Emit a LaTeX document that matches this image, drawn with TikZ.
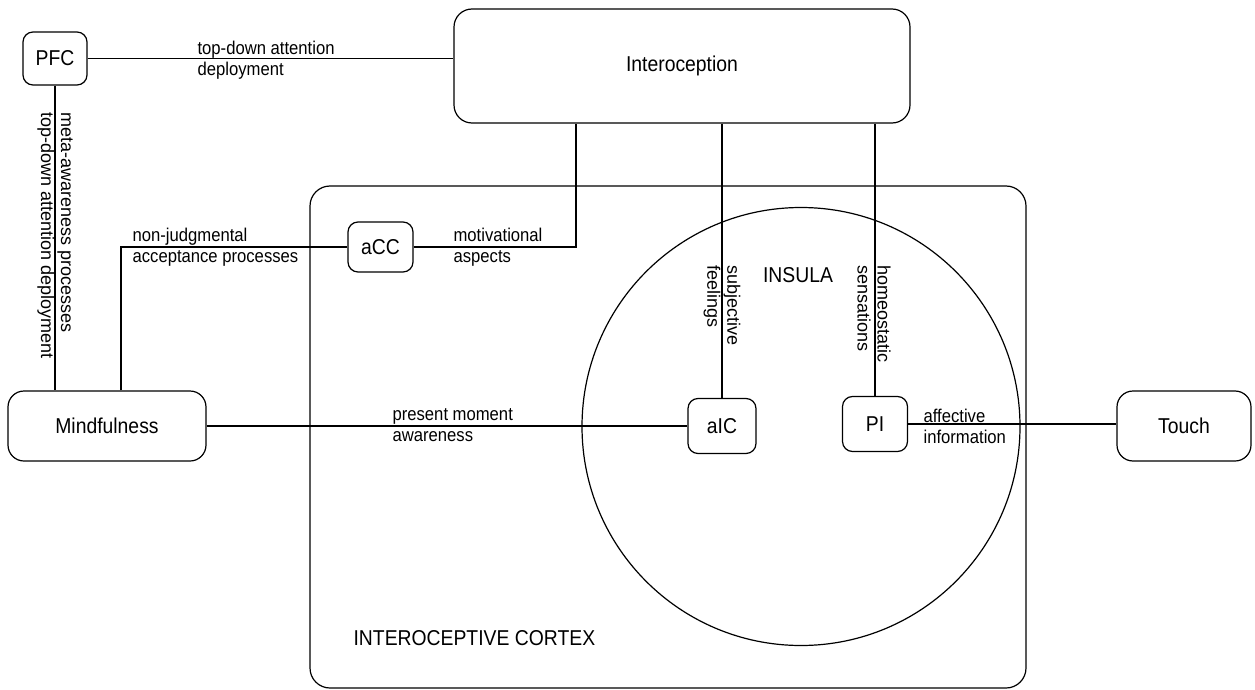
\documentclass[tikz,border=0pt]{standalone}
\usepackage{fontspec}
\setmainfont{Liberation Sans}[FakeStretch=0.9]
\newfontfamily\uprightlbl{Liberation Sans}
\begin{document}
\begin{tikzpicture}[x=1pt,y=-1pt,line width=1.2pt,
		box/.style={draw,rounded corners=#1,inner sep=0pt,font=\fontsize{21.5}{24}\selectfont},
		box/.default=10pt,
		lbl/.style={inner sep=0pt,align=left,font=\fontsize{18.5}{21}\selectfont},
		vlbl/.style={lbl,anchor=west,rotate=-90,font=\uprightlbl\fontsize{18}{20}\selectfont}]
	\useasboundingbox (0,0) rectangle (1255,690);
	% Regions
	\node[draw,rounded corners=20pt,minimum width=716pt,minimum height=502pt] (cortex) at (668,437) {};
	\node[draw,circle,minimum size=438pt,inner sep=0pt] (insula) at (801,426.5) {};
	\node[box,draw=none] at (798,275) {INSULA};
	\node[box,draw=none,anchor=west] at (353,638) {INTEROCEPTIVE CORTEX};
	% Boxes
	\node[box] (pfc) at (55,58.5) [minimum width=64pt,minimum height=53pt] {PFC};
	\node[box=18pt] (intero) at (682,66) [minimum width=456pt,minimum height=114pt] {Interoception};
	\node[box=16pt] (mind) at (107,426) [minimum width=198pt,minimum height=70pt] {Mindfulness};
	\node[box] (acc) at (380.5,247) [minimum width=65pt,minimum height=50pt] {aCC};
	\node[box] (aic) at (722,426) [minimum width=68pt,minimum height=55pt] {aIC};
	\node[box] (pi) at (875,424) [minimum width=65pt,minimum height=55pt] {PI};
	\node[box=16pt] (touch) at (1184,426) [minimum width=134pt,minimum height=70pt] {Touch};
	% Connections
	\coordinate (njBend) at (121,247);
	\coordinate (motBend) at (576,247);
	\draw (pfc.east) -- (pfc.east -| intero.west);
	\draw (pfc.south) -- (pfc.south |- mind.north);
	\draw (njBend |- mind.north) -- (njBend) -- (acc.west);
	\draw (acc.east) -- (motBend) -- (motBend |- intero.south);
	\draw (intero.south -| aic.north) -- (aic.north);
	\draw (intero.south -| pi.north) -- (pi.north);
	\draw (mind.east) -- (aic.west);
	\draw (pi.east) -- (pi.east -| touch.west);
	% Labels
	\node[lbl,anchor=west] at (197,60) {top-down attention\\deployment};
	\node[vlbl] at (55,112) {meta-awareness processes\\top-down attention deployment};
	\node[lbl,anchor=west] at (132,247) {non-judgmental\\acceptance processes};
	\node[lbl,anchor=west] at (453,247) {motivational\\aspects};
	\node[vlbl] at (722,265) {subjective\\feelings};
	\node[vlbl] at (874,265) {homeostatic\\sensations};
	\node[lbl,anchor=west] at (392,425) {present moment\\awareness};
	\node[lbl,anchor=west] at (923,426) {affective\\information};
\end{tikzpicture}
\end{document}
